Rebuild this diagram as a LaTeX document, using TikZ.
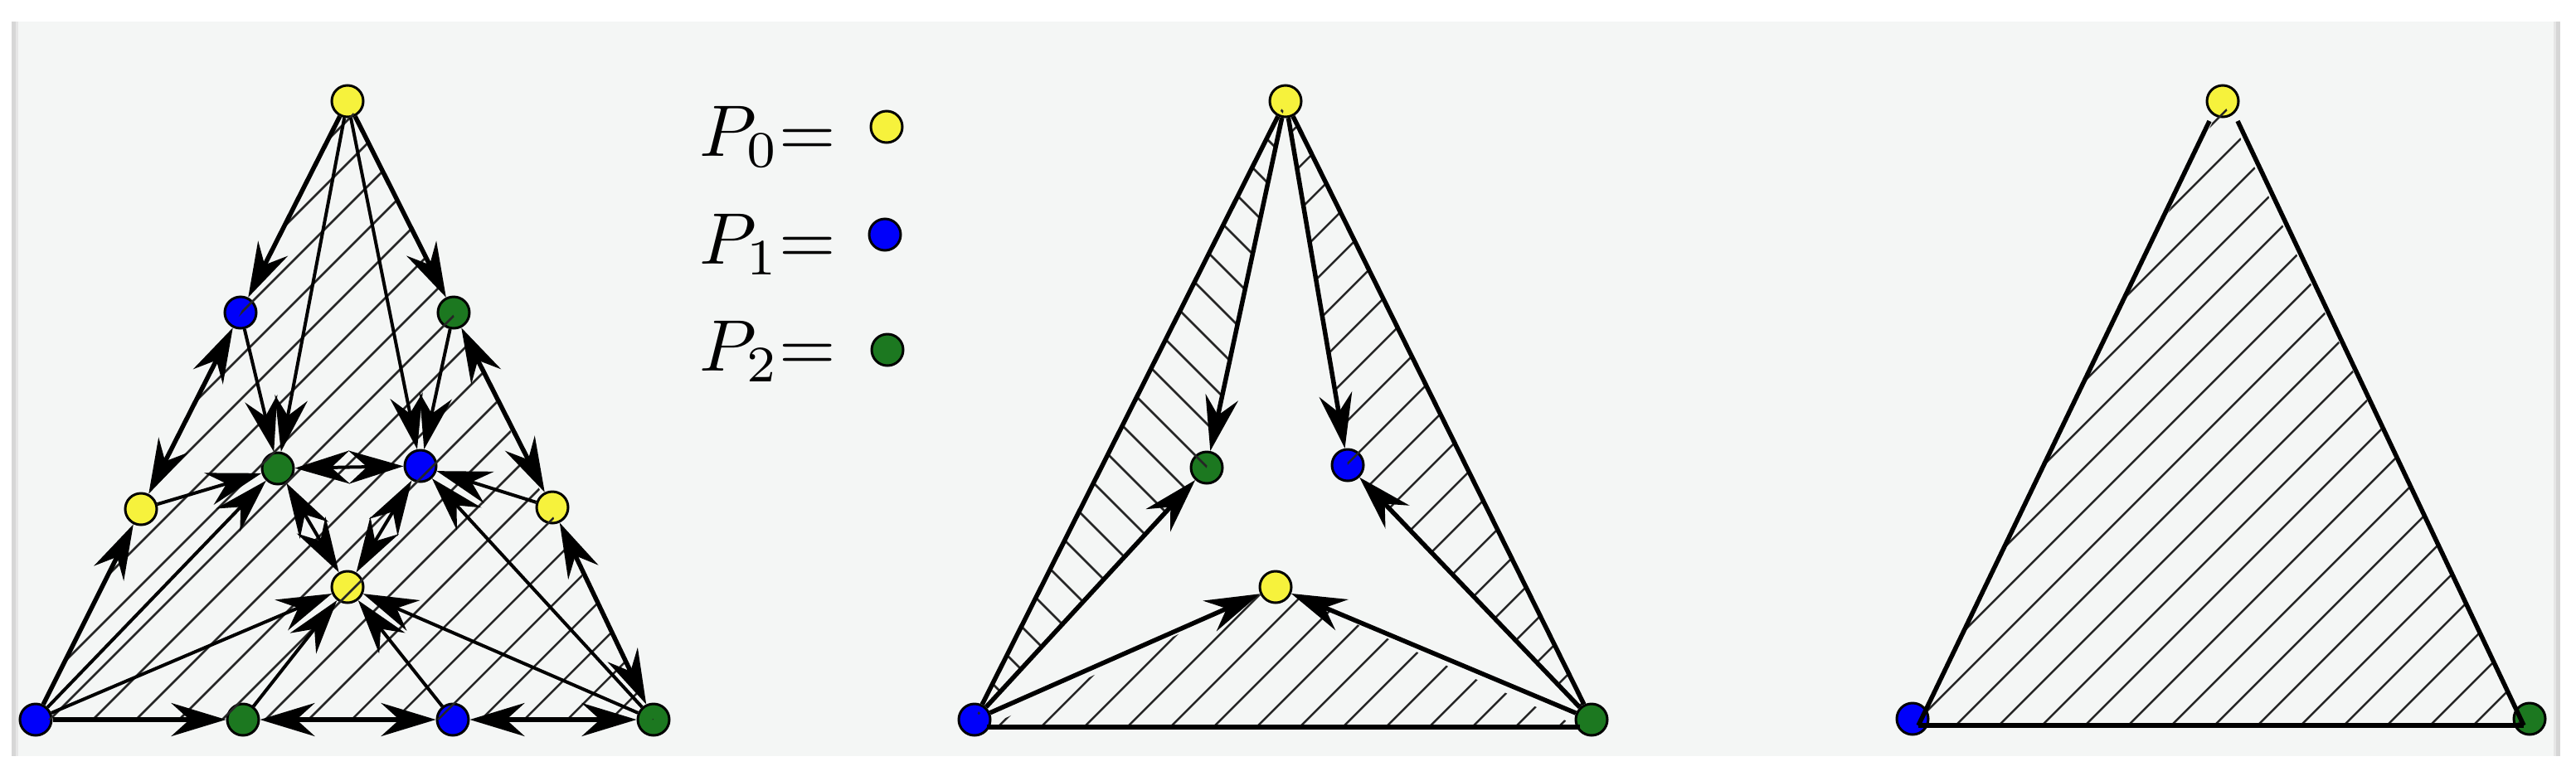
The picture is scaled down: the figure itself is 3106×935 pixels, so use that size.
\documentclass[tikz,border=0pt]{standalone}
\usetikzlibrary{arrows.meta}
\definecolor{bgpanel}{RGB}{244,246,245}
\definecolor{barA}{RGB}{214,214,214}
\definecolor{barB}{RGB}{230,230,230}
\definecolor{pyellow}{RGB}{246,242,60}
\definecolor{pblue}{RGB}{0,0,250}
\definecolor{pgreen}{RGB}{28,120,32}
\tikzset{
  vtx/.style={circle, draw=black, line width=3pt, minimum size=38pt, inner sep=0pt},
  vy/.style={vtx, fill=pyellow},
  vb/.style={vtx, fill=pblue},
  vg/.style={vtx, fill=pgreen},
  edgeline/.style={line width=5.5pt, black},
  innerline/.style={line width=4pt, black},
  hatchline/.style={line width=2.5pt, black!85},
  legendtext/.style={anchor=base west, inner sep=0pt, scale=8.8}
}
\begin{document}
\begin{tikzpicture}[x=1pt, y=-1pt, >={Stealth[length=66pt, width=40pt, inset=22pt]}]
\useasboundingbox (0,0) rectangle (3106,935);
% background
\fill[white] (0,0) rectangle (3106,935);
\fill[bgpanel] (22,26) rectangle (3079,912);
\fill[barA] (14,26) rectangle (19,912);
\fill[barB] (19,26) rectangle (22,912);
\fill[barB] (3079,26) rectangle (3082,912);
\fill[barA] (3082,26) rectangle (3087,912);

% ---------- left figure nodes ----------
\node[vy] (t)  at (419,122) {};
\node[vb] (bu) at (290,377) {};
\node[vg] (gu) at (547,377) {};
\node[vy] (yl) at (170,614) {};
\node[vg] (gi) at (335,565) {};
\node[vb] (bi) at (507,562) {};
\node[vy] (yr) at (666,612) {};
\node[vy] (yi) at (419,708) {};
\node[vb] (bl) at (43,868) {};
\node[vg] (gb) at (293,868) {};
\node[vb] (bb) at (546,868) {};
\node[vg] (br) at (788,868) {};

% ---------- middle figure nodes ----------
\node[vy] (mt)  at (1550,122) {};
\node[vg] (mg)  at (1455,564) {};
\node[vb] (mb)  at (1625,561) {};
\node[vy] (my)  at (1538,708) {};
\node[vb] (mbl) at (1175,868) {};
\node[vg] (mbr) at (1919,868) {};
\coordinate (mblb) at (1190,877);
\coordinate (mbrb) at (1905,877);

% ---------- right figure nodes ----------
\node[vy] (rt)  at (2680,122) {};
\node[vb] (rbl) at (2306,867) {};
\node[vg] (rbr) at (3050,867) {};
\coordinate (rblc) at (2313,875);
\coordinate (rbrc) at (3043,875);
\coordinate (rtl) at (2664,146);
\coordinate (rtr) at (2698,146);

% ---------- legend ----------
\node[legendtext] (l0) at (842,188) {$P_0$=};
\node[legendtext] (l1) at (842,318) {$P_1$=};
\node[legendtext] (l2) at (842,447) {$P_2$=};
\node[vy] (k0) at (1069,153) {};
\node[vb] (k1) at (1067,283) {};
\node[vg] (k2) at (1070,422) {};

% ---------- hatching ----------
\begin{scope}
  \clip (t.center) -- (bl.center) -- (br.center) -- cycle;
  \foreach \k in {-22,...,22} { \draw[hatchline] ({980+52*\k},0) -- ++(-935,935); }
\end{scope}
\begin{scope}
  \clip (mt.center) -- (mbl.center) -- (mg.center) -- cycle;
  \foreach \k in {-22,...,22} { \draw[hatchline] ({1100+52*\k},0) -- ++(935,935); }
\end{scope}
\begin{scope}
  \clip (mt.center) -- (mbr.center) -- (mb.center) -- cycle;
  \foreach \k in {-22,...,22} { \draw[hatchline] ({2132+52*\k},0) -- ++(-935,935); }
\end{scope}
\begin{scope}
  \clip (mblb) -- (mbrb) -- (my.center) -- cycle;
  \foreach \k in {-22,...,22} { \draw[hatchline] ({2132+52*\k},0) -- ++(-935,935); }
\end{scope}
\begin{scope}
  \clip (rt.center) -- (rblc) -- (rbrc) -- cycle;
  \foreach \k in {-22,...,22} { \draw[hatchline] ({3233+52*\k},0) -- ++(-935,935); }
\end{scope}

% ---------- left figure connectors ----------
\draw[edgeline,->]  (t) -- (bu);
\draw[edgeline,<->] (bu) -- (yl);
\draw[edgeline,->]  (bl) -- (yl);
\draw[edgeline,->]  (t) -- (gu);
\draw[edgeline,<->] (gu) -- (yr);
\draw[edgeline,<->] (yr) -- (br);
\draw[edgeline,->]  (bl) -- (gb);
\draw[edgeline,<->] (gb) -- (bb);
\draw[edgeline,<->] (bb) -- (br);

\draw[innerline,->]  (t) -- (gi);
\draw[innerline,->]  (t) -- (bi);
\draw[innerline,->]  (bu) -- (gi);
\draw[innerline,->]  (gu) -- (bi);
\draw[innerline,->]  (yl) -- (gi);
\draw[innerline,->]  (bl) -- (gi);
\draw[innerline,<->] (gi) -- (bi);
\draw[innerline,->]  (yr) -- (bi);
\draw[innerline,->]  (br) -- (bi);
\draw[innerline,<->] (gi) -- (yi);
\draw[innerline,<->] (bi) -- (yi);
\draw[innerline,->]  (bl) -- (yi);
\draw[innerline,->]  (gb) -- (yi);
\draw[innerline,->]  (bb) -- (yi);
\draw[innerline,->]  (br) -- (yi);

% ---------- middle figure connectors ----------
\draw[edgeline] (mt) -- (mbl);
\draw[edgeline] (mt) -- (mbr);
\draw[edgeline] (mblb) -- (mbrb);
\draw[edgeline,->] (mt) -- (mg);
\draw[edgeline,->] (mbl) -- (mg);
\draw[edgeline,->] (mt) -- (mb);
\draw[edgeline,->] (mbr) -- (mb);
\draw[edgeline,->] (mbl) -- (my);
\draw[edgeline,->] (mbr) -- (my);

% ---------- right figure connectors ----------
\draw[edgeline] (rtl) -- (rblc);
\draw[edgeline] (rtr) -- (rbrc);
\draw[edgeline] (rblc) -- (rbrc);
\end{tikzpicture}
\end{document}
